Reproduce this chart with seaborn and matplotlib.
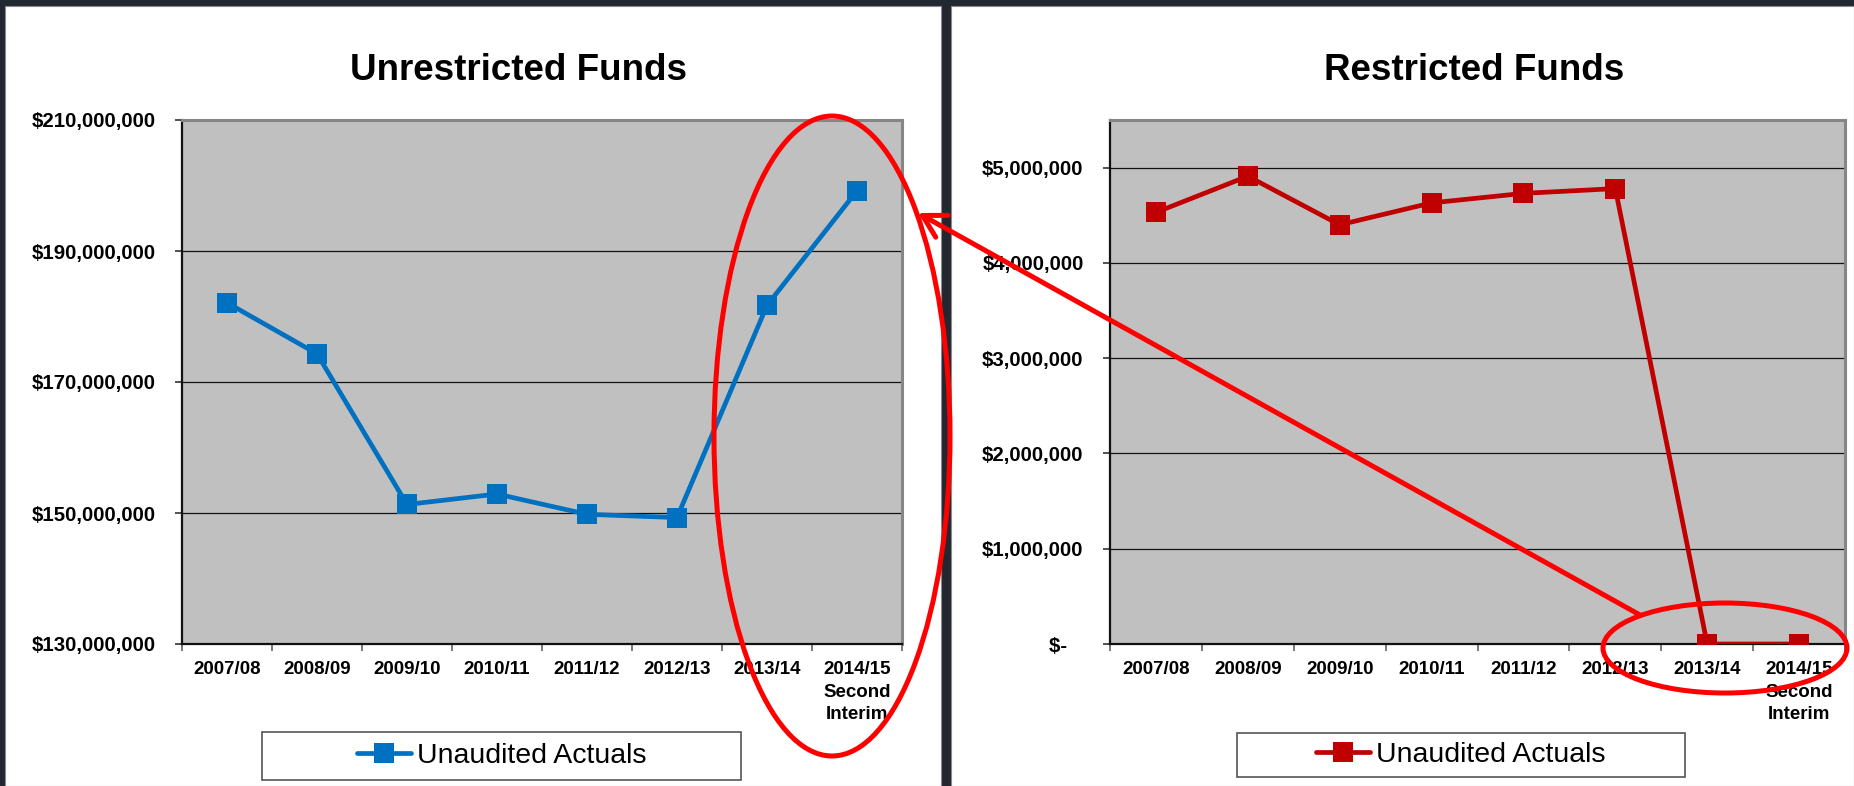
import matplotlib
matplotlib.use("Agg")
import numpy as np
import pandas as pd
import matplotlib.pyplot as plt
import seaborn as sns
from matplotlib import font_manager
from matplotlib.patches import Rectangle, Ellipse, FancyArrowPatch
from matplotlib.lines import Line2D
from matplotlib.ticker import FuncFormatter

# chart data
years = ["2007/08", "2008/09", "2009/10", "2010/11", "2011/12", "2012/13",
         "2013/14", "2014/15\nSecond\nInterim"]
unrestricted = [182.1e6, 174.3e6, 151.3e6, 152.9e6, 149.8e6, 149.3e6, 181.7e6, 199.2e6]
restricted = [4.53e6, 4.91e6, 4.40e6, 4.63e6, 4.73e6, 4.78e6, 0, 0]
unrestricted_ticks = [130e6, 150e6, 170e6, 190e6, 210e6]
restricted_ticks = [0, 1e6, 2e6, 3e6, 4e6, 5e6]
series_label = "Unaudited Actuals"

BLUE = "#0070C0"
RED = "#C00000"
MARK = "#FF0000"
DARK = "#232830"
W, H = 1854, 786

sns.set_style("white")
plt.rcParams["font.family"] = ["Liberation Sans", "DejaVu Sans"]
plt.rcParams["text.color"] = "black"
plt.rcParams["xtick.color"] = "black"
plt.rcParams["ytick.color"] = "black"

installed = {f.name for f in font_manager.fontManager.ttflist}
if "Liberation Sans Narrow" in installed:
    tick_font = ["Liberation Sans Narrow", "Liberation Sans"]
    ytick_size, xtick_size = 16, 15
else:
    tick_font = ["Liberation Sans", "DejaVu Sans"]
    ytick_size, xtick_size = 14.7, 13.5


def fx(px):
    return px / W


def fy(py):
    return 1 - py / H


fig = plt.figure(figsize=(W / 100, H / 100), dpi=100, facecolor=DARK)

# white chart panels
fig.add_artist(Rectangle((fx(5), 0), fx(941 - 5), fy(6), transform=fig.transFigure,
                         facecolor="white", edgecolor="#8a8a8a", lw=0.8, zorder=-2))
fig.add_artist(Rectangle((fx(951), 0), fx(W - 951), fy(6), transform=fig.transFigure,
                         facecolor="white", edgecolor="#8a8a8a", lw=0.8, zorder=-2))

x = np.arange(len(years))
ax1 = fig.add_axes([fx(182), fy(644), fx(902 - 182), (644 - 120) / H])
ax2 = fig.add_axes([fx(1110), fy(644), fx(1845 - 1110), (644 - 120) / H])

df1 = pd.DataFrame({"x": x, "value": unrestricted})
df2 = pd.DataFrame({"x": x, "value": restricted})


def style_axes(ax, df, color, yticks, ylim, fmt):
    ax.set_facecolor("#C0C0C0")
    sns.lineplot(data=df, x="x", y="value", ax=ax, color=color, lw=3.4,
                 marker="s", markersize=14.5, markeredgewidth=0, zorder=5,
                 legend=False)
    ax.set_xlim(-0.5, len(years) - 0.5)
    ax.set_ylim(*ylim)
    ax.set_yticks(yticks)
    ax.yaxis.set_major_formatter(FuncFormatter(fmt))
    ax.grid(axis="y", color="#111111", lw=0.9, zorder=1)
    ax.grid(axis="x", visible=False)
    ax.set_axisbelow(True)
    ax.set_xticks(x, labels=years)
    ax.set_xticks(np.arange(len(years) + 1) - 0.5, minor=True)
    ax.tick_params(axis="x", which="major", length=0, pad=12)
    ax.tick_params(axis="x", which="minor", length=5, width=1.1, color="#555555",
                   direction="out", bottom=True)
    ax.tick_params(axis="y", length=5, width=1.1, color="#222222", direction="out",
                   left=True, pad=14)
    for lab in ax.get_xticklabels():
        lab.set_fontfamily(tick_font)
        lab.set_fontsize(xtick_size)
        lab.set_fontweight("bold")
        lab.set_linespacing(1.45)
    for lab in ax.get_yticklabels():
        lab.set_fontfamily(tick_font)
        lab.set_fontsize(ytick_size)
        lab.set_fontweight("bold")
    ax.set_xlabel("")
    ax.set_ylabel("")
    for side in ["left", "bottom"]:
        ax.spines[side].set_color("#111111")
        ax.spines[side].set_linewidth(1.6)
    for side in ["top", "right"]:
        ax.spines[side].set_color("#868686")
        ax.spines[side].set_linewidth(2.2)


style_axes(ax1, df1, BLUE, unrestricted_ticks, (130e6, 210e6),
           lambda v, p: f"${v:,.0f}")
style_axes(ax2, df2, RED, restricted_ticks, (0, 5.5e6),
           lambda v, p: "$-   " if v == 0 else f"${v:,.0f}")

fig.text(fx(518), fy(71), "Unrestricted Funds", ha="center", va="center",
         fontsize=26.5, fontweight="bold")
fig.text(fx(1474), fy(71), "Restricted Funds", ha="center", va="center",
         fontsize=26.5, fontweight="bold")

# legend boxes
for (x0, x1, y0, y1), color in [((262, 741, 732, 780), BLUE), ((1237, 1685, 733, 777), RED)]:
    fig.add_artist(Rectangle((fx(x0), fy(y1)), fx(x1 - x0), (y1 - y0) / H,
                             transform=fig.transFigure, facecolor="white",
                             edgecolor="#555555", lw=1.2, zorder=1))
    handle = Line2D([], [], color=color, lw=3.4, marker="s", markersize=14.5,
                    markeredgewidth=0)
    leg = fig.legend(handles=[handle], labels=[series_label], loc="center",
                     bbox_to_anchor=(fx((x0 + x1) / 2), fy((y0 + y1) / 2)),
                     frameon=False, fontsize=20.5, handlelength=1.9,
                     handletextpad=0.2, borderpad=0, labelcolor="black")
    leg.set_zorder(2)

# red annotations
fig.add_artist(Ellipse((fx(832), fy(436)), fx(236), 640 / H, transform=fig.transFigure,
                       fill=False, edgecolor=MARK, lw=3.6, zorder=10))
fig.add_artist(Ellipse((fx(1725), fy(648)), fx(244), 90 / H, transform=fig.transFigure,
                       fill=False, edgecolor=MARK, lw=3.6, zorder=10))
fig.add_artist(FancyArrowPatch((fx(1640), fy(615)), (fx(918), fy(213)),
                               transform=fig.transFigure,
                               arrowstyle="->,head_length=0.8,head_width=0.45",
                               mutation_scale=20, color=MARK, lw=3.6,
                               shrinkA=0, shrinkB=0, zorder=10))

fig.savefig("out.png", dpi=100, facecolor=DARK)
